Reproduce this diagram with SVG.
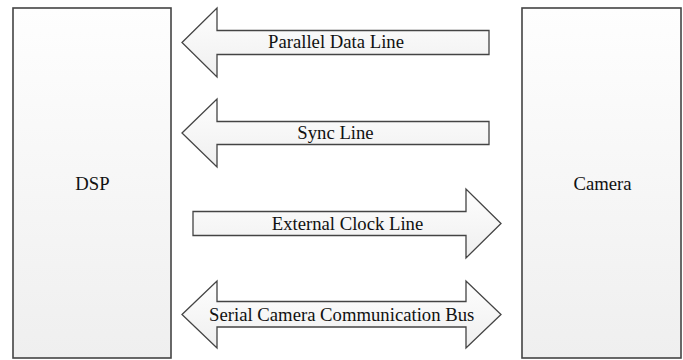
<svg xmlns="http://www.w3.org/2000/svg" width="683" height="360" viewBox="0 0 683 360">
  <defs>
    <linearGradient id="g" x1="0" y1="0" x2="0" y2="1">
      <stop offset="0" stop-color="#fefefe"/>
      <stop offset="1" stop-color="#efefef"/>
    </linearGradient>
  </defs>
  <style>
    .box { fill: url(#g); stroke: #444; stroke-width: 1.6; }
    .arr { fill: url(#g); stroke: #444; stroke-width: 1.3; stroke-linejoin: miter; }
    text { font-family: "Liberation Serif", "Times New Roman", serif; font-size: 18.7px; fill: #111; text-anchor: middle; }
  </style>
  <rect width="683" height="360" fill="#ffffff"/>
  <g id="dsp">
    <rect class="box" x="13" y="8" width="158" height="350"/>
    <text x="92.5" y="190">DSP</text>
  </g>
  <g id="camera">
    <rect class="box" x="522" y="8" width="159" height="350"/>
    <text x="602.5" y="190">Camera</text>
  </g>
  <g id="connectors">
    <g id="parallel-data-line">
      <polygon class="arr" points="182,42.5 217,8 217,30.5 489,30.5 489,54.5 217,54.5 217,77"/>
      <text x="336" y="48">Parallel Data Line</text>
    </g>
    <g id="sync-line">
      <polygon class="arr" points="182,133 217,99 217,121.5 489,121.5 489,144.5 217,144.5 217,167"/>
      <text x="335.5" y="139">Sync Line</text>
    </g>
    <g id="external-clock-line">
      <polygon class="arr" points="193,211.5 466,211.5 466,189 501,223.5 466,258 466,235.5 193,235.5"/>
      <text x="347.5" y="229.5">External Clock Line</text>
    </g>
    <g id="serial-camera-bus">
      <polygon class="arr" points="182,314.5 217,281 217,301.5 466,301.5 466,281 501,314.5 466,348 466,327 217,327 217,348"/>
      <text x="341.7" y="320.5">Serial Camera Communication Bus</text>
    </g>
  </g>
</svg>
